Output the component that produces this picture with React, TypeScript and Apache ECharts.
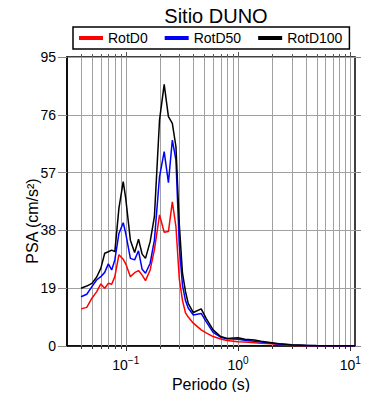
import React, { useEffect, useRef } from "react";
import * as echarts from "echarts";

const TITLE = "Sitio DUNO";
const SERIES_NAMES = ["RotD0", "RotD50", "RotD100"];
const COLORS = ["#ff0000", "#0000ff", "#000000"];

const periods = [
  0.04, 0.045, 0.05, 0.055, 0.06, 0.065, 0.07, 0.075, 0.08, 0.087, 0.095, 0.1,
  0.11, 0.12, 0.13, 0.14, 0.15, 0.165, 0.18, 0.2, 0.22, 0.24, 0.26, 0.28, 0.3,
  0.32, 0.34, 0.36, 0.4, 0.47, 0.52, 0.6, 0.7, 0.8, 1.0, 1.15, 1.4, 1.6, 2.0,
  2.4, 3.0, 4.0, 5.0, 7.0, 10.0, 11.0,
];

const rotD0 = [
  12.2, 12.7, 15.7, 17.8, 20.4, 19.0, 20.6, 20.3, 22.8, 30.0, 28.5, 27.0,
  22.8, 24.1, 24.8, 23.3, 21.5, 25.0, 31.6, 43.1, 37.4, 37.6, 47.4, 39.2, 22.0,
  15.0, 11.0, 9.5, 7.5, 5.3, 4.3, 3.1, 2.3, 1.8, 1.4, 1.3, 1.1, 0.9, 0.7,
  0.4, 0.2, 0.12, 0.08, 0.05, 0.03, 0.03,
];

const rotD50 = [
  16.2, 17.0, 19.5, 21.7, 22.8, 24.2, 27.0, 25.0, 28.3, 37.0, 40.5, 37.0,
  28.8, 28.3, 31.3, 25.2, 23.9, 27.2, 34.8, 55.7, 63.9, 53.7, 67.7, 61.1, 33.0,
  20.0, 15.0, 12.5, 10.2, 10.7, 8.0, 4.5, 2.9, 2.4, 2.2, 1.9, 1.6, 1.3, 0.9,
  0.6, 0.3, 0.2, 0.12, 0.08, 0.04, 0.04,
];

const rotD100 = [
  19.0, 19.7, 20.6, 22.6, 25.5, 30.5, 31.0, 31.5, 31.0, 45.3, 54.0, 48.5,
  34.8, 30.7, 35.1, 30.2, 28.8, 34.3, 42.5, 74.3, 86.0, 75.4, 73.2, 65.5, 40.0,
  24.0, 18.0, 14.0, 11.0, 12.2, 9.1, 5.3, 3.1, 2.5, 2.7, 2.2, 2.0, 1.6, 1.1,
  0.7, 0.4, 0.25, 0.15, 0.1, 0.05, 0.05,
];

const X_MIN = 0.03;
const X_MAX = 11;
const Y_MIN = 0;
const Y_MAX = 95;
const Y_INTERVAL = 19;

const majorXTicks = [0.1, 1, 10];
const minorXTicks = [
  0.04, 0.05, 0.06, 0.07, 0.08, 0.09,
  0.2, 0.3, 0.4, 0.5, 0.6, 0.7, 0.8, 0.9,
  2, 3, 4, 5, 6, 7, 8, 9,
];

const X_LABEL = "Periodo (s)";
const Y_LABEL = "PSA (cm/s\u00B2)";

const FONT = "'Liberation Sans', Arial, Helvetica, sans-serif";

export default function App() {
  const ref = useRef<HTMLDivElement>(null);

  useEffect(() => {
    if (!ref.current) return;
    const chart = echarts.init(ref.current, null, { renderer: "svg" });
    const values = [rotD0, rotD50, rotD100];

    const gridData = [
      ...majorXTicks.map((v) => [v, 1]),
      ...minorXTicks.map((v) => [v, 0]),
    ];

    const option: any = {
      animation: false,
      backgroundColor: "#ffffff",
      textStyle: { fontFamily: FONT },
      title: {
        text: TITLE,
        left: 211,
        top: 1,
        textAlign: "center",
        textStyle: { fontFamily: FONT, fontSize: 20, fontWeight: "normal", color: "#000" },
      },
      legend: {
        data: SERIES_NAMES,
        left: 73,
        top: 27,
        orient: "horizontal",
        icon: "rect",
        itemWidth: 24,
        itemHeight: 4,
        itemGap: 17,
        padding: [4, 7, 4, 6],
        borderColor: "#000",
        borderWidth: 1.5,
        borderRadius: 0,
        textStyle: { fontFamily: FONT, fontSize: 14, color: "#000" },
      },
      grid: {
        left: 67,
        right: 35,
        top: 57,
        bottom: 54,
        show: true,
        borderColor: "#000",
        borderWidth: 1.5,
        backgroundColor: "transparent",
      },
      xAxis: {
        type: "log",
        logBase: 10,
        min: X_MIN,
        max: X_MAX,
        axisLine: { show: true, lineStyle: { color: "#000", width: 1.5 } },
        axisTick: { show: false },
        splitLine: { show: false },
        minorTick: { show: false },
        axisLabel: {
          margin: 9,
          showMinLabel: false,
          showMaxLabel: false,
          color: "#000",
          fontFamily: FONT,
          formatter: (v: number) => {
            const l = Math.log10(v);
            const e = Math.round(l);
            if (Math.abs(l - e) > 1e-6) return "";
            return `{b|10}{s|${e < 0 ? "\u2212" : ""}${Math.abs(e)}}`;
          },
          rich: {
            b: { fontSize: 14, fontFamily: FONT, color: "#000" },
            s: { fontSize: 10, fontFamily: FONT, color: "#000", padding: [0, 0, 10, 0] },
          },
        },
        name: X_LABEL,
        nameLocation: "middle",
        nameGap: 28,
        nameTextStyle: { fontFamily: FONT, fontSize: 16, color: "#000" },
      },
      yAxis: [
        {
          type: "value",
          min: Y_MIN,
          max: Y_MAX,
          interval: Y_INTERVAL,
          axisLine: { show: true, lineStyle: { color: "#000", width: 1.5 } },
          axisTick: { show: true, length: 9, lineStyle: { color: "#888", width: 1 } },
          splitLine: { show: true, lineStyle: { color: "#a0a0a0", width: 1 } },
          axisLabel: { margin: 11, color: "#000", fontSize: 14, fontFamily: FONT },
        },
        {
          type: "value",
          position: "right",
          min: Y_MIN,
          max: Y_MAX,
          interval: Y_INTERVAL,
          axisLine: { show: false },
          axisTick: { show: true, length: 6, lineStyle: { color: "#888", width: 1 } },
          splitLine: { show: false },
          axisLabel: { show: false },
        },
      ],
      graphic: [
        {
          type: "text",
          x: 32,
          y: 221,
          rotation: Math.PI / 2,
          style: {
            text: Y_LABEL,
            fontFamily: FONT,
            fontSize: 16,
            fill: "#000",
            align: "center",
            verticalAlign: "middle",
          },
        },
      ],
      series: [
        {
          type: "custom",
          name: "grid",
          silent: true,
          z: 1,
          clip: false,
          data: gridData,
          renderItem: (params: any, api: any) => {
            const v = api.value(0);
            const major = api.value(1) === 1;
            const pb = api.coord([v, Y_MIN]);
            const pt = api.coord([v, Y_MAX]);
            const x = Math.round(pb[0]) + 0.5;
            const yb = pb[1];
            const yt = pt[1];
            const len = major ? 5 : 3;
            return {
              type: "group",
              children: [
                { type: "line", shape: { x1: x, y1: yt, x2: x, y2: yb }, style: { stroke: "#a0a0a0", lineWidth: 1 } },
                { type: "line", shape: { x1: x, y1: yb, x2: x, y2: yb + len }, style: { stroke: "#333", lineWidth: 1 } },
                { type: "line", shape: { x1: x, y1: yt, x2: x, y2: yt - len }, style: { stroke: "#555", lineWidth: 1 } },
              ],
            };
          },
        },
        ...SERIES_NAMES.map((name, i) => ({
          type: "line",
          name,
          z: 3,
          showSymbol: false,
          symbol: "none",
          color: COLORS[i],
          lineStyle: { color: COLORS[i], width: 1.5 },
          data: periods.map((p, j) => [p, values[i][j]]),
        })),
      ],
    };

    chart.setOption(option);
    return () => chart.dispose();
  }, []);

  return <div ref={ref} style={{ width: 390, height: 400, margin: -8 }} />;
}
